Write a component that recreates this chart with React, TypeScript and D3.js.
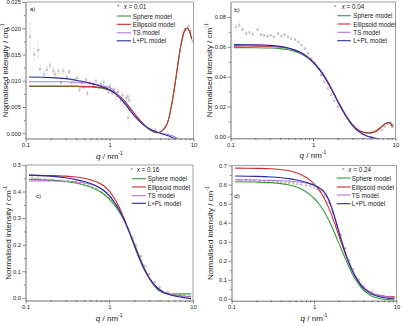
import { useEffect, useRef } from "react";
import * as d3 from "d3";

const W = 402;
const H = 326;

// x axis (log q), shared by all four panels
const xMajor = [0.1, 1, 10];
const xTickLabels = ["0.1", "1", "10"];
const xMinor = [0.2, 0.3, 0.4, 0.5, 0.6, 0.7, 0.8, 0.9, 2, 3, 4, 5, 6, 7, 8, 9];

const modelNames = ["Sphere model", "Ellipsoid model", "TS model", "L+PL model"];
const modelColors = ["#3a9a3c", "#c92d2d", "#b574e6", "#2b2b96"];

// ---- a) x = 0.01 ----
const qModelA = [0.11, 0.2, 0.3, 0.4, 0.5, 0.6, 0.7, 0.8, 1.0, 1.2, 1.5, 1.8, 2.2, 2.7, 3.2, 3.7, 4.2, 4.8, 5.4, 6.0, 6.6, 7.2, 7.8, 8.4, 9.0, 9.5];
const sphereA = [0.0089, 0.0089, 0.0089, 0.0089, 0.0088, 0.0088, 0.0087, 0.0086, 0.0082, 0.0075, 0.0061, 0.0045, 0.0028, 0.0012, 0.0004, 0.0001, 0.0004, 0.0016, 0.0048, 0.0091, 0.0137, 0.0173, 0.0194, 0.0200, 0.0193, 0.0179];
const ellipsoidA = [0.0090, 0.0090, 0.0090, 0.0090, 0.0089, 0.0089, 0.0088, 0.0087, 0.0083, 0.0076, 0.0062, 0.0046, 0.0029, 0.0013, 0.0005, 0.0001, 0.0004, 0.0016, 0.0048, 0.0092, 0.0138, 0.0174, 0.0195, 0.0201, 0.0194, 0.0180];
const tsA = [0.0098, 0.0098, 0.0098, 0.0097, 0.0096, 0.0095, 0.0093, 0.0091, 0.0087, 0.0077, 0.0060, 0.0043, 0.0026, 0.0013, 0.0006, 0.0002, 0.0000, -0.0002, -0.0004, -0.0007, -0.0010, -0.0013, -0.0016, -0.0018, -0.0020, -0.0022];
const lplA = [0.0107, 0.0106, 0.0104, 0.0101, 0.0098, 0.0095, 0.0092, 0.0089, 0.0083, 0.0074, 0.0058, 0.0041, 0.0025, 0.0013, 0.0006, 0.0002, -0.0001, -0.0004, -0.0007, -0.0010, -0.0013, -0.0016, -0.0018, -0.0020, -0.0022, -0.0024];
const qDataA = [0.113, 0.127, 0.142, 0.149, 0.167, 0.179, 0.196, 0.214, 0.224, 0.246, 0.264, 0.282, 0.31, 0.33, 0.355, 0.388, 0.414, 0.44, 0.466, 0.497, 0.525, 0.544, 0.585, 0.64, 0.69, 0.74, 0.79, 0.85, 0.91, 0.97, 1.01, 1.08, 1.14, 1.22, 1.27, 1.36, 1.43, 1.5, 1.58, 1.65, 1.67, 1.72, 3.5, 7.9, 8.7, 9.2, 9.8];
const iDataA = [0.0184, 0.0150, 0.0158, 0.0122, 0.0112, 0.0121, 0.0129, 0.0119, 0.0112, 0.0118, 0.0097, 0.0119, 0.0107, 0.0117, 0.0096, 0.0102, 0.0105, 0.0083, 0.0096, 0.0088, 0.0102, 0.0076, 0.0096, 0.0092, 0.0099, 0.0088, 0.0094, 0.0097, 0.0086, 0.0079, 0.0090, 0.0076, 0.0084, 0.0070, 0.0079, 0.0063, 0.0073, 0.0057, 0.0067, 0.0070, 0.0030, 0.0063, 0.0006, 0.0198, 0.0204, 0.0195, 0.0176];
const errA = [0.0026, 0.0012, 0.0014, 0.0008, 0.0007, 0.0007, 0.0006, 0.0006, 0.0005, 0.0005, 0.0005, 0.0005, 0.0004, 0.0004, 0.0004, 0.0004, 0.0004, 0.0004, 0.0004, 0.0004, 0.0004, 0.0004, 0.0004, 0.0004, 0.0004, 0.0004, 0.0004, 0.0004, 0.0004, 0.0004, 0.0004, 0.0004, 0.0004, 0.0005, 0.0005, 0.0005, 0.0005, 0.0005, 0.0005, 0.0005, 0.0015, 0.0005, 0.0003, 0.0004, 0.0004, 0.0004, 0.0004];
const yTicksA = [0, 0.005, 0.01, 0.015, 0.02, 0.025];
const yLabelsA = ["0.000", "0.005", "0.010", "0.015", "0.020", "0.025"];

// ---- b) x = 0.04 ----
const qModelB = [0.11, 0.2, 0.3, 0.4, 0.5, 0.6, 0.7, 0.85, 1.0, 1.2, 1.5, 1.8, 2.1, 2.5, 3.0, 3.5, 4.0, 4.5, 5.0, 5.5, 6.0, 6.6, 7.2, 7.8, 8.4, 8.8, 9.2];
const sphereB = [0.0595, 0.0594, 0.0592, 0.0588, 0.0580, 0.0569, 0.0555, 0.0528, 0.0496, 0.0447, 0.0366, 0.0285, 0.0214, 0.0141, 0.0080, 0.0045, 0.0030, 0.0024, 0.0024, 0.0030, 0.0042, 0.0060, 0.0078, 0.0090, 0.0093, 0.0084, 0.0062];
const ellipsoidB = [0.0605, 0.0605, 0.0603, 0.0598, 0.0590, 0.0578, 0.0563, 0.0535, 0.0501, 0.0451, 0.0369, 0.0287, 0.0215, 0.0142, 0.0080, 0.0045, 0.0030, 0.0024, 0.0024, 0.0030, 0.0042, 0.0060, 0.0078, 0.0090, 0.0093, 0.0084, 0.0062];
const tsB = [0.0610, 0.0610, 0.0607, 0.0601, 0.0591, 0.0578, 0.0562, 0.0533, 0.0498, 0.0448, 0.0365, 0.0283, 0.0212, 0.0138, 0.0075, 0.0038, 0.0017, 0.0004, -0.0004, -0.0010, -0.0015, -0.0020, -0.0024, -0.0027, -0.0030, -0.0032, -0.0034];
const lplB = [0.0615, 0.0614, 0.0610, 0.0603, 0.0592, 0.0578, 0.0562, 0.0533, 0.0498, 0.0448, 0.0365, 0.0283, 0.0212, 0.0138, 0.0075, 0.0038, 0.0017, 0.0004, -0.0004, -0.0010, -0.0015, -0.0020, -0.0024, -0.0027, -0.0030, -0.0032, -0.0034];
const qDataB = [0.116, 0.127, 0.139, 0.155, 0.17, 0.186, 0.213, 0.233, 0.255, 0.28, 0.306, 0.336, 0.378, 0.414, 0.453, 0.496, 0.543, 0.606, 0.664, 0.727, 0.796, 0.872, 0.956, 1.05, 1.15, 1.25, 1.37, 1.51, 1.65, 1.8, 2.0, 5.1, 5.9, 6.76, 7.4, 8.1, 8.7, 9.3];
const iDataB = [0.0733, 0.0744, 0.0716, 0.0689, 0.0696, 0.0684, 0.0716, 0.0682, 0.0678, 0.0671, 0.0678, 0.0667, 0.0689, 0.0671, 0.0682, 0.0667, 0.0656, 0.0649, 0.0633, 0.0611, 0.0589, 0.0556, 0.0522, 0.0489, 0.0456, 0.0411, 0.0367, 0.0322, 0.0278, 0.0240, 0.0200, 0.0027, 0.0033, 0.0044, 0.0067, 0.0084, 0.0093, 0.0078];
const errB = [0.0016, 0.0013, 0.0011, 0.0009, 0.0008, 0.0007, 0.0007, 0.0006, 0.0006, 0.0005, 0.0005, 0.0005, 0.0005, 0.0005, 0.0005, 0.0005, 0.0005, 0.0005, 0.0005, 0.0005, 0.0005, 0.0005, 0.0005, 0.0005, 0.0005, 0.0005, 0.0005, 0.0005, 0.0005, 0.0005, 0.0005, 0.0004, 0.0004, 0.0004, 0.0004, 0.0004, 0.0004, 0.0004];
const yTicksB = [0, 0.02, 0.04, 0.06, 0.08];
const yLabelsB = ["0.00", "0.02", "0.04", "0.06", "0.08"];

// ---- c) x = 0.16 ----
const qModelC = [0.11, 0.2, 0.3, 0.4, 0.5, 0.6, 0.7, 0.85, 1.0, 1.15, 1.3, 1.5, 1.7, 2.0, 2.3, 2.7, 3.2, 3.8, 4.5, 5.5, 6.5, 8.0, 9.5];
const sphereC = [0.446, 0.443, 0.438, 0.432, 0.425, 0.417, 0.408, 0.392, 0.372, 0.350, 0.326, 0.292, 0.256, 0.203, 0.155, 0.104, 0.060, 0.030, 0.017, 0.014, 0.015, 0.015, 0.015];
const ellipsoidC = [0.461, 0.460, 0.458, 0.455, 0.450, 0.444, 0.437, 0.423, 0.402, 0.375, 0.345, 0.300, 0.255, 0.195, 0.145, 0.098, 0.060, 0.035, 0.020, 0.012, 0.009, 0.006, 0.005];
const tsC = [0.440, 0.440, 0.439, 0.437, 0.433, 0.428, 0.421, 0.406, 0.386, 0.361, 0.335, 0.296, 0.256, 0.198, 0.149, 0.101, 0.063, 0.037, 0.021, 0.012, 0.008, 0.005, 0.004];
const lplC = [0.462, 0.458, 0.452, 0.445, 0.438, 0.430, 0.421, 0.405, 0.385, 0.360, 0.334, 0.295, 0.254, 0.197, 0.148, 0.100, 0.062, 0.036, 0.020, 0.010, 0.005, 0.000, -0.003];
const qDataC = [0.12, 0.13, 0.14, 0.15, 0.17, 0.19, 0.21, 0.23, 0.26, 0.29, 0.32, 0.36, 0.4, 0.45, 0.5, 0.56, 0.63, 0.7, 0.8, 0.9, 1.0, 1.1, 1.2, 1.35, 1.5, 1.7, 1.9, 2.1, 2.4, 2.7, 3.0, 3.5, 4.0, 5.0, 6.0, 7.0, 8.0, 9.0];
const iDataC = [0.452, 0.448, 0.450, 0.446, 0.447, 0.443, 0.444, 0.440, 0.441, 0.438, 0.440, 0.436, 0.435, 0.432, 0.428, 0.423, 0.416, 0.410, 0.398, 0.388, 0.376, 0.362, 0.346, 0.322, 0.298, 0.262, 0.228, 0.198, 0.157, 0.120, 0.090, 0.060, 0.040, 0.022, 0.014, 0.010, 0.008, 0.007];
const yTicksC = [0, 0.1, 0.2, 0.3, 0.4, 0.5];
const yLabelsC = ["0.0", "0.1", "0.2", "0.3", "0.4", "0.5"];

// ---- d) x = 0.24 ----
const qModelD = [0.11, 0.2, 0.3, 0.4, 0.5, 0.6, 0.7, 0.8, 0.9, 1.0, 1.15, 1.3, 1.5, 1.7, 1.9, 2.1, 2.4, 2.7, 3.0, 3.5, 4.0, 5.0, 6.0, 7.5, 9.5];
const sphereD = [0.615, 0.613, 0.610, 0.605, 0.598, 0.588, 0.576, 0.562, 0.546, 0.528, 0.498, 0.465, 0.415, 0.365, 0.315, 0.270, 0.210, 0.160, 0.120, 0.075, 0.045, 0.015, 0.003, -0.004, -0.006];
const ellipsoidD = [0.686, 0.685, 0.683, 0.678, 0.672, 0.663, 0.652, 0.638, 0.622, 0.604, 0.573, 0.536, 0.480, 0.420, 0.360, 0.305, 0.235, 0.180, 0.140, 0.090, 0.060, 0.030, 0.018, 0.012, 0.010];
const tsD = [0.625, 0.624, 0.622, 0.620, 0.618, 0.615, 0.612, 0.608, 0.603, 0.597, 0.585, 0.567, 0.525, 0.460, 0.390, 0.325, 0.245, 0.185, 0.140, 0.090, 0.060, 0.030, 0.017, 0.010, 0.007];
const lplD = [0.645, 0.643, 0.640, 0.636, 0.631, 0.625, 0.619, 0.612, 0.604, 0.596, 0.583, 0.565, 0.520, 0.455, 0.385, 0.320, 0.240, 0.180, 0.135, 0.085, 0.055, 0.025, 0.012, 0.004, 0.000];
const qDataD = [0.12, 0.13, 0.15, 0.17, 0.19, 0.22, 0.25, 0.28, 0.32, 0.36, 0.4, 0.45, 0.5, 0.56, 0.63, 0.7, 0.8, 0.9, 1.0, 1.1, 1.2, 1.35, 1.5, 1.7, 1.9, 2.1, 2.4, 2.7, 3.0, 3.5, 4.0, 5.0, 6.0, 7.0, 8.0, 9.0];
const iDataD = [0.625, 0.622, 0.624, 0.620, 0.621, 0.618, 0.619, 0.616, 0.617, 0.614, 0.613, 0.610, 0.608, 0.605, 0.603, 0.600, 0.595, 0.590, 0.584, 0.575, 0.563, 0.540, 0.505, 0.450, 0.390, 0.335, 0.265, 0.200, 0.155, 0.100, 0.065, 0.035, 0.020, 0.014, 0.010, 0.008];
const yTicksD = [0, 0.1, 0.2, 0.3, 0.4, 0.5, 0.6, 0.7];
const yLabelsD = ["0.0", "0.1", "0.2", "0.3", "0.4", "0.5", "0.6", "0.7"];

const FONT = "'Liberation Sans', Arial, sans-serif";

const panels = [
  {
    id: "a", tag: "a)", xValue: "0.01",
    box: { left: 25.5, right: 193.5, top: 2, bottom: 138.5 },
    yDomain: [-0.001, 0.025], yTicks: yTicksA, yLabels: yLabelsA,
    qModel: qModelA, models: [sphereA, ellipsoidA, tsA, lplA],
    qData: qDataA, iData: iDataA, err: errA,
    tagPos: [30, 9], yTitleX: 4.5,
    legend: { sqX: 118.3, sqY: 5.6, dataTextX: 123.7, x1: 116.7, x2: 131, textX: 132.7, rows: [16, 24.3, 32.8, 40.8] },
  },
  {
    id: "b", tag: "b)", xValue: "0.04",
    box: { left: 230.5, right: 395.5, top: 2, bottom: 138.3 },
    yDomain: [-0.0012, 0.09], yTicks: yTicksB, yLabels: yLabelsB,
    qModel: qModelB, models: [sphereB, ellipsoidB, tsB, lplB],
    qData: qDataB, iData: iDataB, err: errB,
    tagPos: [234.3, 10], yTitleX: 209,
    legend: { sqX: 335, sqY: 6, dataTextX: 341.7, x1: 337.3, x2: 350.7, textX: 353.3, rows: [15.7, 24, 32.3, 40.7] },
  },
  {
    id: "c", tag: "c)", xValue: "0.16",
    box: { left: 25.5, right: 193, top: 165, bottom: 300.5 },
    yDomain: [-0.01, 0.5], yTicks: yTicksC, yLabels: yLabelsC,
    qModel: qModelC, models: [sphereC, ellipsoidC, tsC, lplC],
    qData: qDataC, iData: iDataC, err: null,
    tagPos: [36, 196], yTitleX: 7.5,
    legend: { sqX: 131.7, sqY: 169, dataTextX: 136.7, x1: 131.7, x2: 146, textX: 147.7, rows: [178.7, 187, 195.7, 203.3] },
  },
  {
    id: "d", tag: "d)", xValue: "0.24",
    box: { left: 231.5, right: 396.5, top: 165.5, bottom: 300.7 },
    yDomain: [-0.01, 0.7], yTicks: yTicksD, yLabels: yLabelsD,
    qModel: qModelD, models: [sphereD, ellipsoidD, tsD, lplD],
    qData: qDataD, iData: iDataD, err: null,
    tagPos: [234.3, 196.3], yTitleX: 210,
    legend: { sqX: 343.3, sqY: 169, dataTextX: 348.3, x1: 336.7, x2: 350.7, textX: 351.7, rows: [178, 187, 195, 203.7] },
  },
];

function styleAxis(sel, labelled) {
  sel.attr("font-family", FONT).attr("font-size", 5.8);
  sel.selectAll("line").attr("stroke", "#333").attr("stroke-width", 0.6);
  sel.selectAll("path").attr("stroke", "#333").attr("stroke-width", 0.7);
  sel.selectAll("text").attr("fill", "#222");
  if (!labelled) sel.select(".domain").remove();
}

function drawPanel(svg, p) {
  const { box } = p;
  const x = d3.scaleLog().domain([0.1, 10]).range([box.left, box.right]);
  const y = d3.scaleLinear().domain(p.yDomain).range([box.bottom, box.top]);
  const g = svg.append("g");

  const clipId = "clip-" + p.id;
  g.append("clipPath").attr("id", clipId)
    .append("rect")
    .attr("x", box.left).attr("y", box.top)
    .attr("width", box.right - box.left).attr("height", box.bottom - box.top);
  const plot = g.append("g").attr("clip-path", `url(#${clipId})`);

  // measured points, with error bars where there are any
  if (p.err) {
    plot.selectAll("path.err").data(p.qData).join("path")
      .attr("class", "err")
      .attr("d", (q, i) => {
        const cx = x(q);
        const y1 = y(p.iData[i] - p.err[i]);
        const y2 = y(p.iData[i] + p.err[i]);
        return `M${cx},${y1}V${y2}M${cx - 0.9},${y1}H${cx + 0.9}M${cx - 0.9},${y2}H${cx + 0.9}`;
      })
      .attr("stroke", "#d2d2d2").attr("stroke-width", 0.5).attr("fill", "none");
  }
  plot.selectAll("rect.pt").data(p.qData).join("rect")
    .attr("class", "pt")
    .attr("x", (q) => x(q) - 1.1)
    .attr("y", (q, i) => y(p.iData[i]) - 1.1)
    .attr("width", 2.2).attr("height", 2.2)
    .attr("fill", "#c2c2c2");

  // model curves
  p.models.forEach((vals, k) => {
    const line = d3.line()
      .x((d) => x(d[0]))
      .y((d) => y(d[1]))
      .curve(d3.curveCatmullRom.alpha(0.5));
    plot.append("path")
      .attr("d", line(d3.zip(p.qModel, vals)))
      .attr("fill", "none")
      .attr("stroke", modelColors[k])
      .attr("stroke-width", 1.1);
  });

  // frame
  g.append("path")
    .attr("d", `M${box.left},${box.top}H${box.right}V${box.bottom}`)
    .attr("fill", "none").attr("stroke", "#777").attr("stroke-width", 0.7);

  // x axis
  const xAxis = g.append("g").attr("transform", `translate(0,${box.bottom})`)
    .call(d3.axisBottom(x).tickValues(xMajor).tickFormat((d, i) => xTickLabels[i]).tickSize(3).tickPadding(1.5).tickSizeOuter(0));
  styleAxis(xAxis, true);
  const xAxisMinor = g.append("g").attr("transform", `translate(0,${box.bottom})`)
    .call(d3.axisBottom(x).tickValues(xMinor).tickFormat(() => "").tickSize(1.6));
  styleAxis(xAxisMinor, false);

  // y axis
  const yAxis = g.append("g").attr("transform", `translate(${box.left},0)`)
    .call(d3.axisLeft(y).tickValues(p.yTicks).tickFormat((d, i) => p.yLabels[i]).tickSize(3).tickPadding(1.5).tickSizeOuter(0));
  styleAxis(yAxis, true);
  const yMinor = p.yTicks.slice(1).map((t, i) => (t + p.yTicks[i]) / 2);
  const yAxisMinor = g.append("g").attr("transform", `translate(${box.left},0)`)
    .call(d3.axisLeft(y).tickValues(yMinor).tickFormat(() => "").tickSize(1.6));
  styleAxis(yAxisMinor, false);

  // axis titles
  const xt = g.append("text")
    .attr("x", x(1)).attr("y", box.bottom + 17)
    .attr("text-anchor", "middle").attr("dominant-baseline", "central")
    .attr("font-family", FONT).attr("font-size", 8).attr("fill", "#222");
  xt.append("tspan").attr("font-style", "italic").text("q");
  xt.append("tspan").text(" / nm");
  xt.append("tspan").attr("font-size", 5.2).attr("dy", -3).text("-1");

  const yt = g.append("text")
    .attr("transform", `translate(${p.yTitleX},${(box.top + box.bottom) / 2}) rotate(-90)`)
    .attr("text-anchor", "middle").attr("dominant-baseline", "central")
    .attr("font-family", FONT).attr("font-size", 8).attr("fill", "#222");
  yt.append("tspan").text("Normalised intensity / cm");
  yt.append("tspan").attr("font-size", 5.2).attr("dy", -3).text("-1");

  // panel tag
  g.append("text")
    .attr("x", p.tagPos[0]).attr("y", p.tagPos[1])
    .attr("dominant-baseline", "central")
    .attr("font-family", FONT).attr("font-size", 6).attr("fill", "#222")
    .text(p.tag);

  // legend
  const L = p.legend;
  g.append("rect")
    .attr("x", L.sqX - 1.1).attr("y", L.sqY - 1.1)
    .attr("width", 2.2).attr("height", 2.2).attr("fill", "#b9b9b9");
  const lt = g.append("text")
    .attr("x", L.dataTextX).attr("y", L.sqY)
    .attr("dominant-baseline", "central")
    .attr("font-family", FONT).attr("font-size", 6.3).attr("fill", "#222");
  lt.append("tspan").attr("font-style", "italic").text("x");
  lt.append("tspan").text(" = " + p.xValue);

  modelNames.forEach((name, k) => {
    const ry = L.rows[k];
    g.append("line")
      .attr("x1", L.x1).attr("x2", L.x2).attr("y1", ry).attr("y2", ry)
      .attr("stroke", modelColors[k]).attr("stroke-width", 1.1);
    g.append("text")
      .attr("x", L.textX).attr("y", ry)
      .attr("dominant-baseline", "central")
      .attr("font-family", FONT).attr("font-size", 6.3).attr("fill", "#222")
      .text(name);
  });
}

export default function App() {
  const ref = useRef(null);

  useEffect(() => {
    const svg = d3.select(ref.current);
    svg.selectAll("*").remove();
    panels.forEach((p) => drawPanel(svg, p));
  }, []);

  return (
    <svg
      ref={ref}
      width={W}
      height={H}
      style={{ position: "absolute", left: 0, top: 0, background: "#fff" }}
    />
  );
}
